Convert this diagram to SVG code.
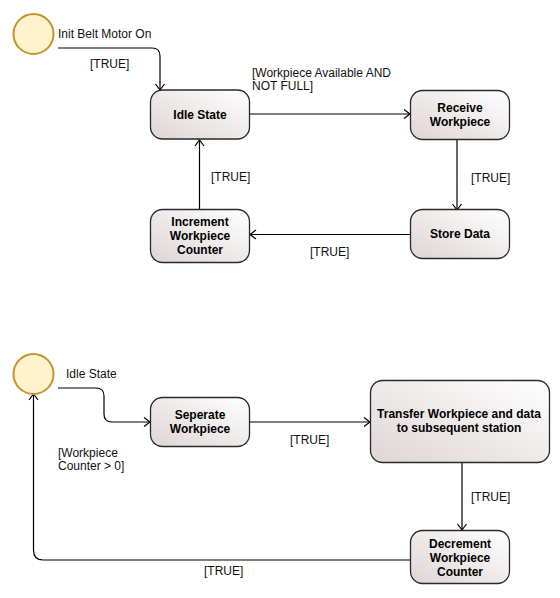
<svg xmlns="http://www.w3.org/2000/svg" width="560" height="598" viewBox="0 0 560 598">
<defs>
<linearGradient id="g" x1="0" y1="1" x2="1" y2="0">
<stop offset="0" stop-color="#ded5d5"/>
<stop offset="1" stop-color="#ffffff"/>
</linearGradient>
<marker id="a" markerUnits="userSpaceOnUse" markerWidth="12" markerHeight="12" viewBox="0 0 12 12" refX="10" refY="6" orient="auto">
<path d="M4,1.5 L10,6 L4,10.5" fill="none" stroke="#000" stroke-width="1.2"/>
</marker>
</defs>
<style>
.n{fill:url(#g);stroke:#2a2a2a;stroke-width:1.3}
.s{fill:#fff2cc;stroke:#c4932a;stroke-width:2}
.t{font-family:"Liberation Sans",Arial,sans-serif;font-size:12px;font-weight:bold;fill:#000;text-anchor:middle}
.l{font-family:"Liberation Sans",Arial,sans-serif;font-size:12px;fill:#111}
.c{fill:none;stroke:#000;stroke-width:1.2}
</style>
<rect width="560" height="598" fill="#fff"/>
<g id="connectors">
<path class="c" d="M58,48 H152 Q160,48 160,56 V90" marker-end="url(#a)"/>
<path class="c" d="M250,114 H410" marker-end="url(#a)"/>
<path class="c" d="M457,140 V210" marker-end="url(#a)"/>
<path class="c" d="M410,234.5 H250" marker-end="url(#a)"/>
<path class="c" d="M199.5,209 V140" marker-end="url(#a)"/>
<path class="c" d="M58,388 H96 Q104,388 104,396 V414 Q104,422 112,422 H150" marker-end="url(#a)"/>
<path class="c" d="M250,422 H370" marker-end="url(#a)"/>
<path class="c" d="M462,462 V530" marker-end="url(#a)"/>
<path class="c" d="M410,560 H43 Q33.5,560 33.5,550 V394" marker-end="url(#a)"/>
<text class="l" x="90" y="68">[TRUE]</text>
<text class="l" x="252" y="77">[Workpiece Available AND</text>
<text class="l" x="252" y="90">NOT FULL]</text>
<text class="l" x="471" y="182">[TRUE]</text>
<text class="l" x="310" y="256">[TRUE]</text>
<text class="l" x="211" y="181">[TRUE]</text>
<text class="l" x="290" y="444">[TRUE]</text>
<text class="l" x="471" y="501">[TRUE]</text>
<text class="l" x="204" y="575">[TRUE]</text>
<text class="l" x="58" y="457">[Workpiece</text>
<text class="l" x="58" y="470">Counter &gt; 0]</text>
</g>
<g id="start1">
<circle class="s" cx="33.5" cy="34" r="20"/>
<text class="l" x="58" y="38">Init Belt Motor On</text>
</g>
<g id="idle">
<rect class="n" x="150.5" y="90" width="99" height="49" rx="12"/>
<text class="t" x="200" y="119">Idle State</text>
</g>
<g id="receive">
<rect class="n" x="410.5" y="90.5" width="99" height="49" rx="12"/>
<text class="t" x="460" y="112">Receive</text>
<text class="t" x="460" y="126">Workpiece</text>
</g>
<g id="store">
<rect class="n" x="410.5" y="209.5" width="99" height="49" rx="12"/>
<text class="t" x="460" y="238">Store Data</text>
</g>
<g id="increment">
<rect class="n" x="150.5" y="209.5" width="99" height="53" rx="12"/>
<text class="t" x="200" y="226">Increment</text>
<text class="t" x="200" y="240">Workpiece</text>
<text class="t" x="200" y="254">Counter</text>
</g>
<g id="start2">
<circle class="s" cx="33.5" cy="374" r="20"/>
<text class="l" x="66" y="378">Idle State</text>
</g>
<g id="seperate">
<rect class="n" x="150.5" y="397.5" width="99" height="49" rx="12"/>
<text class="t" x="200" y="419">Seperate</text>
<text class="t" x="200" y="433">Workpiece</text>
</g>
<g id="transfer">
<rect class="n" x="370.5" y="380.5" width="179" height="82" rx="12"/>
<text class="t" x="459" y="418">Transfer Workpiece and data</text>
<text class="t" x="459" y="432">to subsequent station</text>
</g>
<g id="decrement">
<rect class="n" x="410.5" y="530.5" width="99" height="53" rx="12"/>
<text class="t" x="460" y="548">Decrement</text>
<text class="t" x="460" y="562">Workpiece</text>
<text class="t" x="460" y="576">Counter</text>
</g>
</svg>
